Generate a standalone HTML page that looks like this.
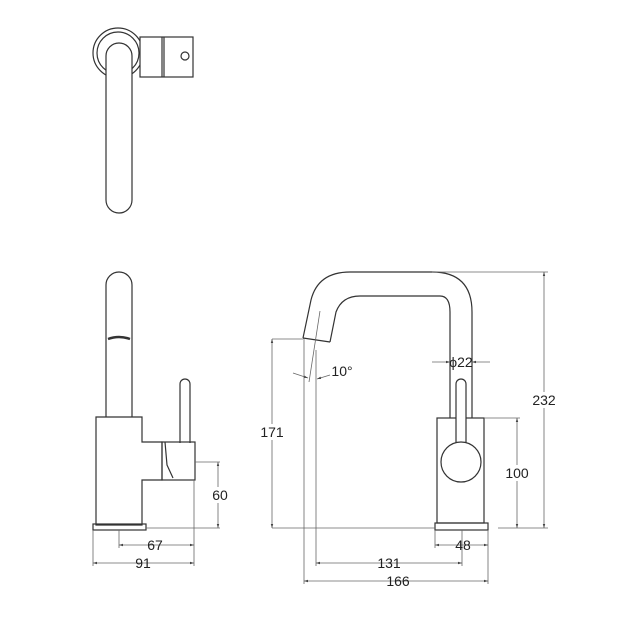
<!DOCTYPE html>
<html><head><style>body{margin:0;background:#fff}svg{display:block}text{font-family:"Liberation Sans",sans-serif;font-size:14px;fill:#222}</style></head>
<body>
<svg width="620" height="620" viewBox="0 0 620 620" xmlns="http://www.w3.org/2000/svg">
<defs>
<marker id="a" viewBox="0 0 10 10" refX="10" refY="5" markerWidth="7" markerHeight="5" orient="auto-start-reverse"><path d="M0,2 L10,5 L0,8 z" fill="#444"/></marker>
</defs>
<g fill="none" stroke="#333" stroke-width="1.2">
<circle cx="118" cy="53" r="25"/>
<circle cx="118" cy="53" r="21"/>
<rect x="140" y="37" width="53" height="40" fill="#fff"/>
<line x1="162" y1="37" x2="162" y2="77"/><line x1="164" y1="37" x2="164" y2="77"/>
<circle cx="185" cy="56" r="4"/>
<path d="M106,56 A13,13 0 0 1 132,56 L132,200 A13,13 0 0 1 106,200 Z" fill="#fff"/>
<path d="M106,417 L106,285 A13,13 0 0 1 132,285 L132,417"/>
<path d="M108,339 Q119,335 130,339" stroke-width="2.5"/>
<path d="M96,417 L142,417 L142,442 L162,442 L162,480 L142,480 L142,525 L96,525 Z"/>
<rect x="162" y="442" width="33" height="38"/>
<path d="M165,442 L167,465 L173,478"/>
<path d="M180,443 L180,384 A5,5 0 0 1 190,384 L190,443"/>
<rect x="93" y="524" width="53" height="6"/>
<path d="M303,338 L311,300 Q318,272 350,272 L432,272 Q472,272 472,312 L472,418"/>
<path d="M330,342 L336,312 Q342,296 360,296 L440,296 Q450,296 450,312 L450,418"/>
<path d="M303,338 L330,342"/>
<rect x="437" y="418" width="47" height="105"/>
<rect x="435" y="523" width="53" height="7"/>
<path d="M456,444 L456,384 A5,5 0 0 1 466,384 L466,444" fill="#fff"/>
<circle cx="461" cy="462" r="20" fill="#fff"/>
</g>
<g fill="none" stroke="#666" stroke-width="0.8">
<line x1="195" y1="462" x2="220" y2="462"/><line x1="146" y1="528" x2="220" y2="528"/>
<line x1="218" y1="462" x2="218" y2="528" marker-start="url(#a)" marker-end="url(#a)"/>
<line x1="119" y1="530" x2="119" y2="548"/><line x1="194" y1="480" x2="194" y2="566"/>
<line x1="93" y1="530" x2="93" y2="566"/>
<line x1="119" y1="545" x2="194" y2="545" marker-start="url(#a)" marker-end="url(#a)"/>
<line x1="93" y1="563" x2="194" y2="563" marker-start="url(#a)" marker-end="url(#a)"/>
<line x1="320" y1="311" x2="309" y2="382"/>
<line x1="304" y1="340" x2="304" y2="584"/><line x1="316" y1="350" x2="316" y2="566"/>
<line x1="272" y1="339" x2="305" y2="339"/>
<line x1="272" y1="528" x2="435" y2="528"/><line x1="498" y1="528" x2="548" y2="528"/>
<line x1="272" y1="339" x2="272" y2="528" marker-start="url(#a)" marker-end="url(#a)"/>
<line x1="432" y1="272" x2="548" y2="272"/>
<line x1="544" y1="272" x2="544" y2="528" marker-start="url(#a)" marker-end="url(#a)"/>
<line x1="484" y1="418" x2="520" y2="418"/>
<line x1="517" y1="418" x2="517" y2="528" marker-start="url(#a)" marker-end="url(#a)"/>
<line x1="432" y1="362" x2="450" y2="362" marker-end="url(#a)"/>
<line x1="490" y1="362" x2="472" y2="362" marker-end="url(#a)"/>
<line x1="293" y1="373" x2="308" y2="378" marker-end="url(#a)"/>
<line x1="330" y1="375" x2="317" y2="379" marker-end="url(#a)"/>
<line x1="435" y1="530" x2="435" y2="548"/><line x1="488" y1="530" x2="488" y2="584"/>
<line x1="462" y1="530" x2="462" y2="566"/>
<line x1="435" y1="545" x2="488" y2="545" marker-start="url(#a)" marker-end="url(#a)"/>
<line x1="316" y1="563" x2="462" y2="563" marker-start="url(#a)" marker-end="url(#a)"/>
<line x1="304" y1="581" x2="488" y2="581" marker-start="url(#a)" marker-end="url(#a)"/>
</g>
<g text-anchor="middle">
<rect x="206" y="487" width="26" height="16" fill="#fff"/><text x="220" y="500">60</text>
<text x="155" y="550">67</text><text x="143" y="568">91</text>
<rect x="259" y="424" width="26" height="16" fill="#fff"/><text x="272" y="437">171</text>
<rect x="531" y="392" width="26" height="16" fill="#fff"/><text x="544" y="405">232</text>
<rect x="504" y="465" width="26" height="16" fill="#fff"/><text x="517" y="478">100</text>
<text x="461" y="367">ϕ22</text>
<text x="342" y="376">10°</text>
<text x="463" y="550">48</text><text x="389" y="568">131</text><text x="398" y="586">166</text>
</g>
</svg>
</body></html>
